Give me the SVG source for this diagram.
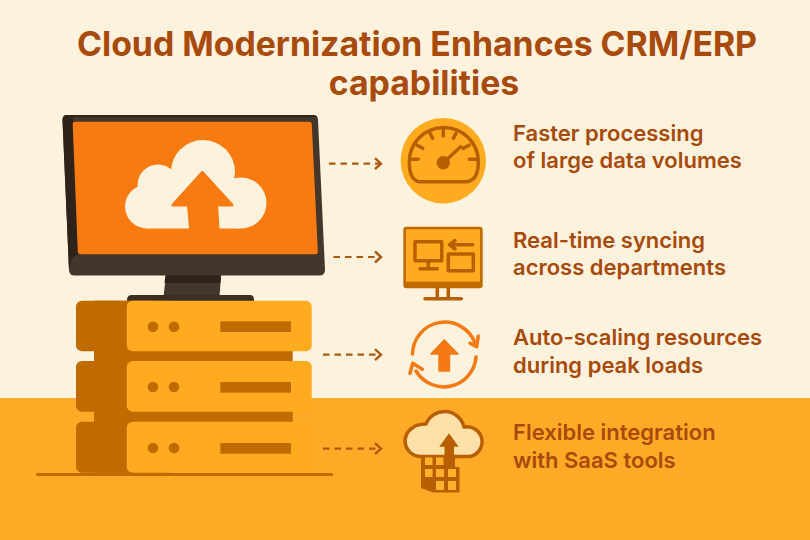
<svg xmlns="http://www.w3.org/2000/svg" width="810" height="540" viewBox="0 0 810 540">
<style>
.t{font-family:Inter,"Liberation Sans",sans-serif;font-weight:700;fill:#A84A0C}
.title{font-size:33.800px}
.lab{font-size:22px;font-weight:600}
.dk{fill:#C06B00}.lt{fill:#FFAA1F}
.ic{fill:none;stroke:#B85F00;stroke-width:3.5;stroke-linecap:round;stroke-linejoin:round}
.conn{fill:none;stroke:#AE5A12;stroke-width:2.2;stroke-dasharray:6.5 5;marker-end:url(#chev)}
.or{fill:none;stroke:#F57A14;stroke-width:3.5;stroke-linecap:round;stroke-linejoin:round}
.cell{fill:#FFB12A}
</style>
<defs>
<marker id="chev" markerUnits="userSpaceOnUse" markerWidth="12" markerHeight="14" refX="9" refY="7" orient="auto"><path d="M3 1.5 9 7 3 12.5" fill="none" stroke="#AE5A12" stroke-width="2.4"/></marker>
</defs>
<rect width="810" height="540" fill="#FEF1DE"/>
<rect y="398" width="810" height="142" fill="#FFAA26"/>
<g id="title">
<text class="t title" x="417" y="56" text-anchor="middle">Cloud Modernization Enhances CRM/ERP</text>
<text class="t title" x="424" y="95" text-anchor="middle">capabilities</text>
</g>
<g id="monitor">
<path d="M166 275H221L219.500 297H163.500Z" fill="#43362A"/>
<path d="M165.500 275H221L220.500 283H164.500Z" fill="#2E231B"/>
<path d="M132 295H250Q254 295 254 300V302H127V300Q127 295 132 295Z" fill="#3A2F25"/>
<path d="M67 115H313Q318 115 318 120L325 270Q325 275.500 319 275.500H75Q69 275.500 69 270L62.500 120Q62.500 115 67 115Z" fill="#43362A"/>
<path d="M67 115H313Q316 115 317 117H72.700L78 254.300 72 258 69 270L62.500 120Q62.500 115 67 115Z" fill="#2E231B"/>
<path d="M75 121.700H309Q311.500 121.700 311.800 124L317.800 251Q318 254.300 315 254.300H81Q78 254.300 77.800 251L72.700 124Q72.700 121.700 75 121.700Z" fill="#F97A10"/>
<g fill="#FEF1DE">
<circle cx="147" cy="206.500" r="22"/><circle cx="158" cy="185" r="20.500"/><circle cx="203" cy="172" r="32"/><circle cx="241" cy="203" r="25.500"/>
<path d="M147 228.500V190H240V228.500Z"/>
</g>
<path d="M202.300 172.500 232 205H216.500L218 228.500H190.500L188.500 205H173Z" fill="#F97A10" stroke="#F97A10" stroke-width="3" stroke-linejoin="round"/>
</g>
<g id="servers">
<rect class="dk" x="36" y="473" width="297" height="3" rx="1.500"/>
<rect class="dk" x="94.300" y="340" width="198.400" height="100"/>
<rect class="dk" x="76" y="300.700" width="100" height="50.600" rx="6"/>
<rect class="dk" x="76" y="361" width="100" height="50.700" rx="6"/>
<rect class="dk" x="76" y="421.700" width="100" height="51" rx="6"/>
<rect class="dk" x="94" y="300.700" width="60" height="172"/>
<rect class="lt" x="126.700" y="300.700" width="185" height="50.600" rx="6"/>
<rect class="lt" x="126.700" y="361" width="185" height="50.700" rx="6"/>
<rect class="lt" x="126.700" y="421.700" width="185" height="51" rx="6"/>
<g class="dk">
<circle cx="153" cy="326.700" r="5.300"/><circle cx="174" cy="326.700" r="5.300"/><rect x="220.300" y="321.300" width="70.700" height="10.700"/>
<circle cx="153" cy="387" r="5.300"/><circle cx="174" cy="387" r="5.300"/><rect x="220.300" y="382" width="70.700" height="10.700"/>
<circle cx="153" cy="448" r="5.300"/><circle cx="174" cy="448" r="5.300"/><rect x="220.300" y="443" width="70.700" height="10.700"/>
</g>
</g>
<g id="connectors">
<path class="conn" d="M329 163.700H381"/>
<path class="conn" d="M333.500 257H381"/>
<path class="conn" d="M323 354.700H381"/>
<path class="conn" d="M323 448.700H381"/>
</g>
<g id="gauge">
<circle cx="443.300" cy="160.700" r="42.700" fill="#FFAA1F"/>
<path class="ic" d="M419 181.700H467Q478.300 180 478.300 162A34.500 34.500 0 0 0 409.300 162Q409.300 180 419 181.700Z"/>
<path class="ic" d="M410 159.300H418.300M416.700 145 422.700 148.300M430 133.300 432.700 138.300M443.300 128.300V136M456 133.300 453.300 138.300M469.300 145 463.300 148.300M476.700 159.300H469.300"/>
<circle cx="443.300" cy="162.700" r="6.700" fill="#B85F00"/>
<path class="ic" d="M443.300 162.700 460.700 146.700" stroke-width="4"/>
</g>
<g id="sync-monitor">
<rect x="403.300" y="226.700" width="79.400" height="61.600" rx="3" fill="#C06B00"/>
<rect x="406" y="229.300" width="74" height="52.400" fill="#FFAA1F"/>
<path d="M415 241.700H441.700V260.700H415ZM428.300 260.700V268.700M420 268.700H437.300M472.700 244.700H451M455 240.500 449.500 244.700 455 249M448.300 254H473.300V270.700H448.300ZM437.300 288.300V298.700M448.300 288.300V298.700M425 298.700H461.300" class="ic" stroke-linecap="butt"/>
</g>
<g id="autoscale">
<path class="or" d="M412.500 354A32.300 32.300 0 0 1 475 343"/>
<path class="or" d="M476 357A32.300 32.300 0 0 1 416 371"/>
<path class="or" d="M470 343.300 476.700 346.700 478.300 336"/>
<path class="or" d="M410 373.300 412.700 363.300 422.300 369.300"/>
<path d="M444.300 340 458 354H449.500V371H439V354H431Z" fill="#F57A14" stroke="#F57A14" stroke-width="1.500" stroke-linejoin="round"/>
</g>
<g id="saas">
<path d="M420 456.500A15.500 15.500 0 0 1 413 427.500Q416 424.500 426 424A20 20 0 0 1 464 427A14.500 14.500 0 0 1 470 456.500Z" fill="#FDE0A8" stroke="#B85F00" stroke-width="3.500" stroke-linejoin="round"/>
<path d="M421 455H455V467H459.500V492.500H433L421 488Z" fill="#B85F00"/>
<g class="cell">
<rect x="425" y="457.500" width="7.500" height="7.500"/><rect x="436" y="457.500" width="7.500" height="7.500"/>
<rect x="425" y="469" width="7.500" height="8"/><rect x="436" y="469" width="8" height="8"/><rect x="448" y="469" width="8" height="8"/>
<rect x="436" y="481" width="8" height="9"/><rect x="448" y="481" width="8" height="9"/>
</g>
<path d="M449 433.300 458.700 446.700H454V468H444.500V446.700H439.300Z" fill="#B85F00"/>
</g>
<g id="labels">
<text class="t lab" x="513" y="141">Faster processing</text>
<text class="t lab" x="513" y="168">of large data volumes</text>
<text class="t lab" x="513" y="248">Real-time syncing</text>
<text class="t lab" x="513" y="275">across departments</text>
<text class="t lab" x="513" y="345">Auto-scaling resources</text>
<text class="t lab" x="513" y="373">during peak loads</text>
<text class="t lab" x="513" y="440">Flexible integration</text>
<text class="t lab" x="513" y="468">with SaaS tools</text>
</g>
</svg>
